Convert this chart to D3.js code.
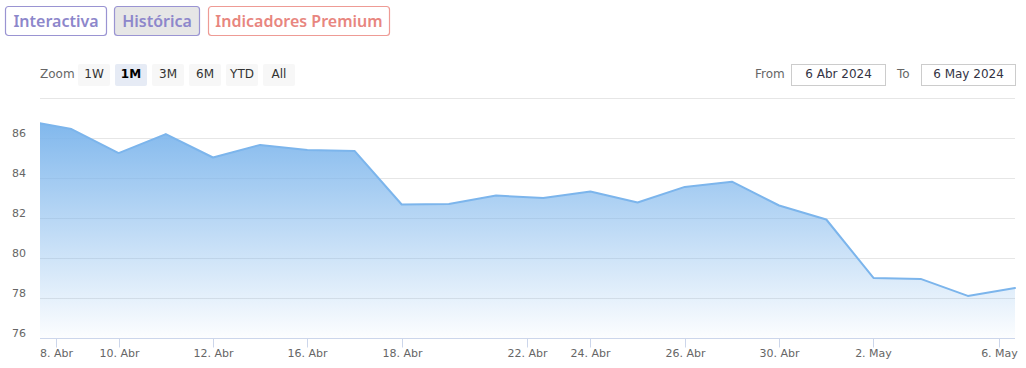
<!DOCTYPE html>
<html>
<head>
<meta charset="utf-8">
<script src="https://cdn.jsdelivr.net/npm/d3@7"></script>
<style>
  html, body { margin: 0; padding: 0; background: #ffffff; }
  svg { display: block; }
</style>
</head>
<body>
<div id="chart"></div>
<script>
// ---------------- data ----------------
const dates = ["2024-04-06","2024-04-09","2024-04-10","2024-04-11","2024-04-12","2024-04-15",
  "2024-04-16","2024-04-17","2024-04-18","2024-04-19","2024-04-20","2024-04-23","2024-04-24",
  "2024-04-25","2024-04-26","2024-04-29","2024-04-30","2024-05-01","2024-05-02","2024-05-03",
  "2024-05-04","2024-05-07"];
const values = [86.90, 86.47, 85.27, 86.22, 85.05, 85.68, 85.43, 85.38, 82.70, 82.73, 83.15,
  83.02, 83.35, 82.80, 83.58, 83.84, 82.65, 81.95, 79.03, 78.98, 78.13, 78.52];
const tickDates = ["2024-04-08","2024-04-10","2024-04-12","2024-04-16","2024-04-18","2024-04-22",
  "2024-04-24","2024-04-26","2024-04-30","2024-05-02","2024-05-06"];
const monthNames = ["Ene","Feb","Mar","Abr","May","Jun","Jul","Ago","Sep","Oct","Nov","Dic"];
const yTicks = [76, 78, 80, 82, 84, 86, 88];
const viewStart = "2024-04-07";
const tabs = ["Interactiva", "Histórica", "Indicadores Premium"];
const zoomButtons = ["1W", "1M", "3M", "6M", "YTD", "All"];
const selectedZoom = "1M";
const fromText = "6 Abr 2024";
const toText = "6 May 2024";

// ---------------- setup ----------------
const W = 1026, H = 368;
const plot = { left: 40, right: 1015, top: 98.5, bottom: 338.5 };
const svg = d3.select("#chart").append("svg").attr("width", W).attr("height", H);
const FONT = "'DejaVu Sans', Verdana, sans-serif";

const parse = s => +new Date(s + "T00:00:00Z");
const times = dates.map(parse);
function ord(t) {
  let i = d3.bisectRight(times, t) - 1;
  if (i < 0) i = 0;
  if (i > times.length - 2) i = times.length - 2;
  return i + (t - times[i]) / (times[i + 1] - times[i]);
}

const x = d3.scaleLinear().domain([ord(parse(viewStart)), times.length - 1]).range([plot.left, plot.right]);
const y = d3.scaleLinear().domain([76, 88]).range([plot.bottom, plot.top]);

// ---------------- header tabs ----------------
const tabStyle = [
  { x: 5.5, w: 101, fill: "#ffffff", stroke: "#9a94d2", color: "#8d87cb" },
  { x: 114.5, w: 85, fill: "#e6e6e6", stroke: "#9a94d2", color: "#8d87cb" },
  { x: 208.5, w: 181, fill: "#ffffff", stroke: "#ee9b95", color: "#e8867f" }
];
const tabG = svg.append("g");
tabs.forEach((t, i) => {
  const s = tabStyle[i];
  tabG.append("rect").attr("x", s.x).attr("y", 6.5).attr("width", s.w).attr("height", 29)
    .attr("rx", 3).attr("fill", s.fill).attr("stroke", s.stroke).attr("stroke-width", 1.2);
  tabG.append("text").attr("x", s.x + s.w / 2).attr("y", 27)
    .attr("text-anchor", "middle").attr("font-family", "'Noto Sans', sans-serif")
    .attr("font-weight", 600).attr("font-size", 16).attr("fill", s.color).text(t);
});

// ---------------- range selector ----------------
svg.append("text").attr("x", 40).attr("y", 78).attr("font-family", FONT).attr("font-size", 12)
  .attr("fill", "#666666").text("Zoom");
zoomButtons.forEach((b, i) => {
  const bx = 78 + i * 37;
  const sel = b === selectedZoom;
  svg.append("rect").attr("x", bx).attr("y", 64).attr("width", 32).attr("height", 22)
    .attr("rx", 2).attr("fill", sel ? "#e6ebf5" : "#f7f7f7");
  svg.append("text").attr("x", bx + 16).attr("y", 78).attr("text-anchor", "middle")
    .attr("font-family", FONT).attr("font-size", 12).attr("font-weight", sel ? "bold" : "normal")
    .attr("fill", sel ? "#000000" : "#333333").text(b);
});

svg.append("text").attr("x", 755).attr("y", 78).attr("font-family", FONT).attr("font-size", 12)
  .attr("fill", "#666666").text("From");
svg.append("rect").attr("x", 791.5).attr("y", 64.5).attr("width", 94).attr("height", 21)
  .attr("fill", "#ffffff").attr("stroke", "#cccccc");
svg.append("text").attr("x", 838.5).attr("y", 78).attr("text-anchor", "middle").attr("font-family", FONT)
  .attr("font-size", 12).attr("fill", "#333344").text(fromText);
svg.append("text").attr("x", 897).attr("y", 78).attr("font-family", FONT).attr("font-size", 12)
  .attr("fill", "#666666").text("To");
svg.append("rect").attr("x", 921.5).attr("y", 64.5).attr("width", 94).attr("height", 21)
  .attr("fill", "#ffffff").attr("stroke", "#cccccc");
svg.append("text").attr("x", 968.5).attr("y", 78).attr("text-anchor", "middle").attr("font-family", FONT)
  .attr("font-size", 12).attr("fill", "#333344").text(toText);

// ---------------- grid ----------------
const grid = svg.append("g");
yTicks.forEach(v => {
  if (v === yTicks[0]) return;
  grid.append("line").attr("x1", plot.left).attr("x2", plot.right)
    .attr("y1", y(v)).attr("y2", y(v)).attr("stroke", "#e6e6e6").attr("stroke-width", 1);
});
yTicks.forEach((v, i) => {
  if (i === yTicks.length - 1) return;
  svg.append("text").attr("x", 12).attr("y", y(v) - 2).attr("font-family", FONT)
    .attr("font-size", 11).attr("fill", "#666666").text(v);
});

// ---------------- area + line ----------------
const defs = svg.append("defs");
defs.append("clipPath").attr("id", "clip").append("rect")
  .attr("x", plot.left).attr("y", plot.top - 10).attr("width", plot.right - plot.left + 1)
  .attr("height", plot.bottom - plot.top + 10);
const grad = defs.append("linearGradient").attr("id", "fillGrad")
  .attr("gradientUnits", "userSpaceOnUse").attr("x1", 0).attr("x2", 0)
  .attr("y1", y(d3.max(values))).attr("y2", plot.bottom);
grad.append("stop").attr("offset", 0).attr("stop-color", "#7cb5ec").attr("stop-opacity", 0.97);
grad.append("stop").attr("offset", 1).attr("stop-color", "#7cb5ec").attr("stop-opacity", 0.02);

const pts = values.map((v, i) => [i, v]);
const series = svg.append("g").attr("clip-path", "url(#clip)");
series.append("path").datum(pts)
  .attr("d", d3.area().x(d => x(d[0])).y0(plot.bottom).y1(d => y(d[1])))
  .attr("fill", "url(#fillGrad)");
series.append("path").datum(pts)
  .attr("d", d3.line().x(d => x(d[0])).y(d => y(d[1])))
  .attr("fill", "none").attr("stroke", "#7cb5ec").attr("stroke-width", 2)
  .attr("stroke-linejoin", "round").attr("stroke-linecap", "round");

// ---------------- x axis ----------------
svg.append("line").attr("x1", plot.left).attr("x2", plot.right).attr("y1", plot.bottom).attr("y2", plot.bottom)
  .attr("stroke", "#ccd6eb");
tickDates.forEach(td => {
  const t = parse(td);
  const px = Math.round(x(ord(t))) + 0.5;
  svg.append("line").attr("x1", px).attr("x2", px).attr("y1", plot.bottom).attr("y2", plot.bottom + 9)
    .attr("stroke", "#ccd6eb");
  const dt = new Date(t);
  svg.append("text").attr("x", px).attr("y", 357).attr("text-anchor", "middle")
    .attr("font-family", FONT).attr("font-size", 11).attr("fill", "#666666")
    .text(dt.getUTCDate() + ". " + monthNames[dt.getUTCMonth()]);
});
</script>
</body>
</html>
